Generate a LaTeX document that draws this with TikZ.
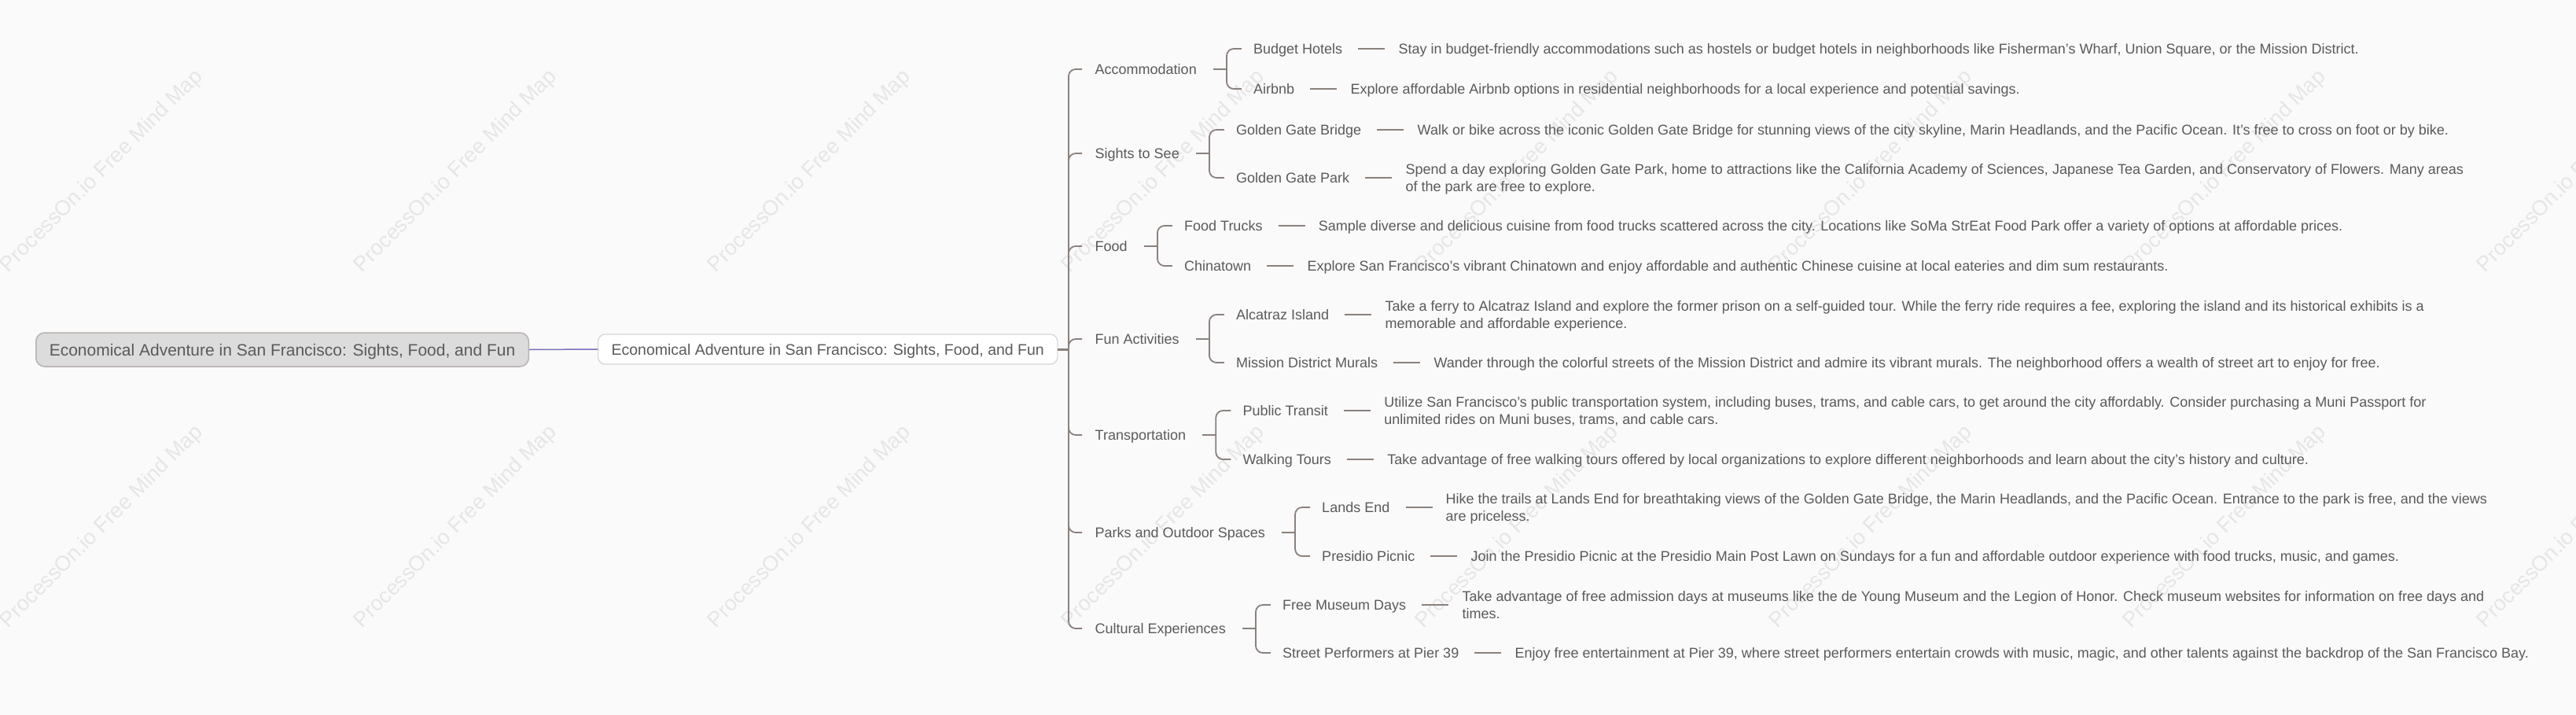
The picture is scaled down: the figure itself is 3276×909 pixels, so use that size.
\documentclass[tikz,border=0pt]{standalone}
\usepackage{fontspec}
\setmainfont{Liberation Sans}
\usetikzlibrary{positioning}
\definecolor{bg}{HTML}{FAFAFA}
\definecolor{txt}{HTML}{5A5A5A}
\definecolor{lnc}{HTML}{8A817D}
\definecolor{rootfill}{HTML}{DCDCDC}
\definecolor{rootdraw}{HTML}{B8B2AF}
\definecolor{maindraw}{HTML}{D4D4D4}
\definecolor{purp}{HTML}{7770BE}
\definecolor{wmc}{HTML}{E6E6E6}
\tikzset{
  lab/.style={font=\fontsize{18}{21.5}\selectfont, text=txt, inner xsep=0pt, inner ysep=2pt,
    text height=12.9pt, text depth=0pt, anchor=west},
  desc/.style={lab, align=left},
  desctwo/.style={lab, align=left, text height=34.4pt, text depth=0pt},
  ln/.style={draw=lnc, line width=1.8pt},
  br/.style={ln, rounded corners=9pt},
  dl/.style={ln, shorten <=20pt, shorten >=17pt},
  wmark/.style={font=\fontsize{27}{30}\selectfont, text=wmc, rotate=45, inner sep=0pt},
  rootbox/.style={font=\fontsize{21}{25}\selectfont, text=txt, draw=rootdraw, fill=rootfill,
    line width=1.5pt, rounded corners=11pt, inner xsep=17pt, inner ysep=0pt, minimum height=43pt,
    text height=15pt, text depth=0pt, anchor=west},
  mainbox/.style={font=\fontsize{19.5}{23}\selectfont, text=txt, draw=maindraw, fill=white,
    line width=1.2pt, rounded corners=9pt, inner xsep=17pt, inner ysep=0pt, minimum height=38pt,
    text height=14pt, text depth=0pt, anchor=west},
}
\begin{document}
\begin{tikzpicture}[x=1pt,y=-1pt]
\fill[bg] (0,0) rectangle (3276,909);
\useasboundingbox (0,0) rectangle (3276,909);

% watermarks
\foreach \x/\i in {130/a,580/b,1030/c,1480/d,1930/e,2380/f,2830/g,3280/h}{
  \foreach \y/\j in {218/r,670/s}{
    \node[wmark] (wm\i\j) at (\x,\y) {ProcessOn.io Free Mind Map};
  }
}

% root and main
\node[rootbox] (root) at (45,444.5) {Economical Adventure in San Francisco: Sights, Food, and Fun};
\node[mainbox] (main) at (760,444) {Economical Adventure in San Francisco: Sights, Food, and Fun};
\draw[purp, line width=1.5pt] (root.east) -- (main.west);

\coordinate (T) at (1359,444);
\draw[draw=lnc, line width=3pt] (main.east) -- (T);

% categories
\node[lab] (acc) at (1392.5,88) {Accommodation};
\node[lab] (sig) at (1392.5,195) {Sights to See};
\node[lab] (food) at (1392.5,313) {Food};
\node[lab] (fun) at (1392.5,431) {Fun Activities};
\node[lab] (tra) at (1392.5,553) {Transportation};
\node[lab] (par) at (1392.5,677) {Parks and Outdoor Spaces};
\node[lab] (cul) at (1392.5,799) {Cultural Experiences};

\foreach \c in {acc,sig,food,fun,tra,par,cul}{
  \draw[br] (T) |- ([xshift=-16.5pt]\c.west);
  \coordinate (\c B) at ([xshift=38pt]\c.east);
  \coordinate (\c C) at ([xshift=72pt]\c.east);
  \draw[ln] ([xshift=21pt]\c.east) -- (\c B);
}

% children
\node[lab] (bh) at (accC |- 0,62) {Budget Hotels};
\node[lab] (air) at (accC |- 0,113) {Airbnb};
\node[lab] (ggb) at (sigC |- 0,165) {Golden Gate Bridge};
\node[lab] (ggp) at (sigC |- 0,226) {Golden Gate Park};
\node[lab] (ft) at (foodC |- 0,287) {Food Trucks};
\node[lab] (ch) at (foodC |- 0,338) {Chinatown};
\node[lab] (alc) at (funC |- 0,400) {Alcatraz Island};
\node[lab] (mdm) at (funC |- 0,461) {Mission District Murals};
\node[lab] (pt) at (traC |- 0,522) {Public Transit};
\node[lab] (wt) at (traC |- 0,584) {Walking Tours};
\node[lab] (le) at (parC |- 0,645) {Lands End};
\node[lab] (pp) at (parC |- 0,707) {Presidio Picnic};
\node[lab] (fmd) at (culC |- 0,769) {Free Museum Days};
\node[lab] (sp) at (culC |- 0,830) {Street Performers at Pier 39};

\foreach \c/\a/\b in {acc/bh/air,sig/ggb/ggp,food/ft/ch,fun/alc/mdm,tra/pt/wt,par/le/pp,cul/fmd/sp}{
  \draw[br] (\c B) |- ([xshift=-15pt]\a.west);
  \draw[br] (\c B) |- ([xshift=-15pt]\b.west);
}

% descriptions
\node[desc, right=71pt of bh] (bhd) {Stay in budget-friendly accommodations such as hostels or budget hotels in neighborhoods like Fisherman's Wharf, Union Square, or the Mission District.};
\node[desc, right=71pt of air] (aird) {Explore affordable Airbnb options in residential neighborhoods for a local experience and potential savings.};
\node[desc, right=71pt of ggb] (ggbd) {Walk or bike across the iconic Golden Gate Bridge for stunning views of the city skyline, Marin Headlands, and the Pacific Ocean. It's free to cross on foot or by bike.};
\node[desctwo, right=71pt of ggp] (ggpd) {Spend a day exploring Golden Gate Park, home to attractions like the California Academy of Sciences, Japanese Tea Garden, and Conservatory of Flowers. Many areas\\of the park are free to explore.};
\node[desc, right=71pt of ft] (ftd) {Sample diverse and delicious cuisine from food trucks scattered across the city. Locations like SoMa StrEat Food Park offer a variety of options at affordable prices.};
\node[desc, right=71pt of ch] (chd) {Explore San Francisco's vibrant Chinatown and enjoy affordable and authentic Chinese cuisine at local eateries and dim sum restaurants.};
\node[desctwo, right=71pt of alc] (alcd) {Take a ferry to Alcatraz Island and explore the former prison on a self-guided tour. While the ferry ride requires a fee, exploring the island and its historical exhibits is a\\memorable and affordable experience.};
\node[desc, right=71pt of mdm] (mdmd) {Wander through the colorful streets of the Mission District and admire its vibrant murals. The neighborhood offers a wealth of street art to enjoy for free.};
\node[desctwo, right=71pt of pt] (ptd) {Utilize San Francisco's public transportation system, including buses, trams, and cable cars, to get around the city affordably. Consider purchasing a Muni Passport for\\unlimited rides on Muni buses, trams, and cable cars.};
\node[desc, right=71pt of wt] (wtd) {Take advantage of free walking tours offered by local organizations to explore different neighborhoods and learn about the city's history and culture.};
\node[desctwo, right=71pt of le] (led) {Hike the trails at Lands End for breathtaking views of the Golden Gate Bridge, the Marin Headlands, and the Pacific Ocean. Entrance to the park is free, and the views\\are priceless.};
\node[desc, right=71pt of pp] (ppd) {Join the Presidio Picnic at the Presidio Main Post Lawn on Sundays for a fun and affordable outdoor experience with food trucks, music, and games.};
\node[desctwo, right=71pt of fmd] (fmdd) {Take advantage of free admission days at museums like the de Young Museum and the Legion of Honor. Check museum websites for information on free days and\\times.};
\node[desc, right=71pt of sp] (spd) {Enjoy free entertainment at Pier 39, where street performers entertain crowds with music, magic, and other talents against the backdrop of the San Francisco Bay.};

\foreach \a in {bh,air,ggb,ggp,ft,ch,alc,mdm,pt,wt,le,pp,fmd,sp}{
  \draw[dl] (\a.east) -- (\a d.west);
}
\end{tikzpicture}
\end{document}
